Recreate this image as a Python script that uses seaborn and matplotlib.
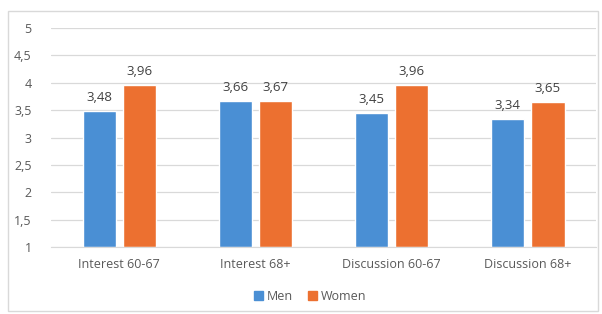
import matplotlib.pyplot as plt
import matplotlib.patches as mpatches
import matplotlib.ticker as mticker
import pandas as pd
import seaborn as sns

categories = ["Interest 60-67", "Interest 68+", "Discussion 60-67", "Discussion 68+"]
men = [3.48, 3.66, 3.45, 3.34]
women = [3.96, 3.67, 3.96, 3.65]
groups = ["Men", "Women"]
colors = ["#4a8fd4", "#ec7030"]

df = pd.DataFrame({
    "category": categories * 2,
    "group": ["Men"] * len(categories) + ["Women"] * len(categories),
    "value": men + women,
})

sns.set_style("white")
plt.rcParams["font.family"] = ["Open Sans", "DejaVu Sans"]

fig = plt.figure(figsize=(6.02, 3.14), dpi=100)
ax = fig.add_axes([0.085, 0.213, 0.905, 0.698])

# outer chart frame
fig.patches.append(mpatches.Rectangle((8 / 602, 3 / 314), 590 / 602, 300 / 314,
                                      transform=fig.transFigure, fill=False,
                                      edgecolor="#d9d9d9", linewidth=1))

# bars start at 1, so plot height above 1 with bottom=1
df["height"] = df["value"] - 1
sns.barplot(data=df, x="category", y="height", hue="group", order=categories,
            hue_order=groups, palette=colors, width=0.59, gap=0.17,
            bottom=1, ax=ax, legend=False, saturation=1)

for cont in ax.containers:
    labels = [f"{b.get_height() + 1:.2f}".replace(".", ",") for b in cont]
    ax.bar_label(cont, labels=labels, padding=5, fontsize=9.5, color="#404040")

ax.set_ylim(1, 5)
ax.set_xlim(-0.5, len(categories) - 0.5)
ax.yaxis.set_major_locator(mticker.MultipleLocator(0.5))
ax.yaxis.set_major_formatter(mticker.FuncFormatter(
    lambda v, _: f"{v:g}".replace(".", ",")))
ax.grid(axis="y", color="#d9d9d9", linewidth=0.9)
ax.set_axisbelow(True)
for s in ["top", "right", "left"]:
    ax.spines[s].set_visible(False)
ax.spines["bottom"].set_color("#d9d9d9")
ax.tick_params(axis="both", length=0, labelsize=9, labelcolor="#595959")
ax.tick_params(axis="x", pad=8)
ax.tick_params(axis="y", pad=14)
ax.set_xlabel("")
ax.set_ylabel("")

handles = [mpatches.Patch(color=c, label=g) for c, g in zip(colors, groups)]
fig.legend(handles=handles, loc="center", bbox_to_anchor=(0.515, 0.055), ncol=2,
           frameon=False, fontsize=9, handlelength=0.7, handleheight=0.7,
           handletextpad=0.3, columnspacing=1.2, labelcolor="#595959")

fig.savefig("out.png", dpi=100)
